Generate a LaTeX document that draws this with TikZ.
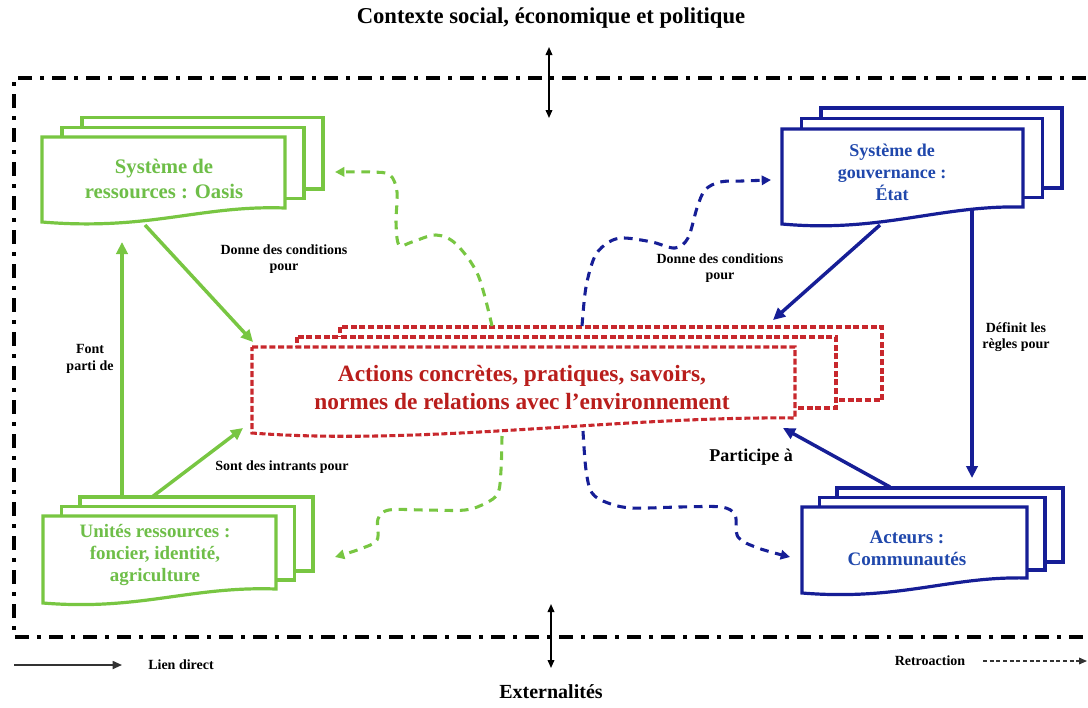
\documentclass[tikz,border=0pt]{standalone}
\usepackage{fontspec}
\setmainfont{Liberation Serif}
\usetikzlibrary{arrows.meta}
\definecolor{oasisgreen}{RGB}{120,198,66}
\definecolor{oasistext}{RGB}{110,190,72}
\definecolor{etatblue}{RGB}{22,30,150}
\definecolor{etattext}{RGB}{32,72,172}
\definecolor{actred}{RGB}{200,40,45}
\definecolor{acttext}{RGB}{185,30,28}
\begin{document}
\begin{tikzpicture}[x=0.75pt,y=-0.75pt,
  frame/.style={line width=3.4pt,dash pattern=on 10.5pt off 6pt on 3pt off 6pt},
  sheet/.style={line width=2.4pt,fill=white},
  redsheet/.style={line width=2.3pt,dash pattern=on 4.5pt off 2pt,draw=actred,fill=white},
  boxtxt/.style={font=\bfseries\fontsize{13.5}{16.5}\selectfont,align=center},
  lbl/.style={font=\bfseries\fontsize{10.5}{12.5}\selectfont,align=center},
  link/.style={line width=2.6pt,-{Triangle[length=9pt,width=8.5pt]}},
  retro/.style={line width=2.3pt,dash pattern=on 6.5pt off 5pt,-{Triangle[length=7pt,width=7pt]}},
  both/.style={line width=1.1pt,{Triangle[length=6pt,width=5pt]}-{Triangle[length=6pt,width=5pt]}}]
\useasboundingbox (0,0) rectangle (1088,707);

% cadre exterieur
\draw[frame] (1086,78) -- (14,78) -- (14,637) -- (1086,637);
\node[font=\bfseries\fontsize{17}{20}\selectfont] (ctx) at (551,18) {Contexte social, économique et politique};
\node[font=\bfseries\fontsize{15}{18}\selectfont] (ext) at (551,692) {Externalités};
\coordinate (ctxA) at (549,47); \coordinate (ctxB) at (549,118);
\coordinate (extA) at (551,604); \coordinate (extB) at (551,668);
\draw[both] (ctxA) -- (ctxB);
\draw[both] (extA) -- (extB);

% systeme de ressources
\foreach \d in {2,1}
  \draw[sheet,draw=oasisgreen] ({42+20*\d},{137-9.8*\d}) rectangle ({285+19*\d},{208-9.5*\d});
\draw[sheet,draw=oasisgreen] (42,137) -- (285,137) -- (285,208) .. controls (200,205) and (150,231) .. (42,222) -- cycle;
\node[boxtxt,font=\bfseries\fontsize{15.5}{19}\selectfont,text=oasistext] (oasis) at (164,179) {Système de\\ressources : Oasis};

% unites ressources
\foreach \d in {2,1}
  \draw[sheet,draw=oasisgreen] ({43+18.5*\d},{516-9.5*\d}) rectangle ({276+18.5*\d},{589-9*\d});
\draw[sheet,draw=oasisgreen] (43,516) -- (276,516) -- (276,589) .. controls (190,586) and (140,611) .. (43,603) -- cycle;
\node[boxtxt,font=\bfseries\fontsize{14.2}{16.5}\selectfont,text=oasistext] (unit) at (155,555) {Unités ressources :\\foncier, identité,\\agriculture};

% systeme de gouvernance
\foreach \d in {2,1}
  \draw[sheet,draw=etatblue] ({782+19.5*\d},{129-10.5*\d}) rectangle ({1023+19.5*\d},{207-9.5*\d});
\draw[sheet,draw=etatblue] (782,129) -- (1023,129) -- (1023,207) .. controls (940,205) and (880,233) .. (782,224) -- cycle;
\node[boxtxt,text=etattext] (etat) at (892,172) {Système de\\gouvernance :\\État};

% acteurs
\foreach \d in {2,1}
  \draw[sheet,draw=etatblue] ({802+17.5*\d},{507-9.5*\d}) rectangle ({1027+18*\d},{578-8*\d});
\draw[sheet,draw=etatblue] (802,507) -- (1027,507) -- (1027,578) .. controls (950,576) and (900,601) .. (802,593) -- cycle;
\node[boxtxt,font=\bfseries\fontsize{14.3}{16.5}\selectfont,text=etattext] (acteurs) at (907,548) {Acteurs :\\Communautés};

% actions
\draw[redsheet] (340,327) rectangle (882,400);
\draw[redsheet] (297,337) rectangle (836,408);
\draw[redsheet] (252,347) -- (795,347) -- (795,418) .. controls (620,416) and (420,446) .. (252,433) -- cycle;
\node[font=\bfseries\fontsize{17.5}{21}\selectfont,text=acttext,align=center] (act) at (522,388)
  {Actions concrètes, pratiques, savoirs,\\normes de relations avec l’environnement};

% liens directs
\coordinate (oasis-s) at (145,225);  \coordinate (act-nw) at (253,342);
\coordinate (unit-n1) at (122,497);  \coordinate (oasis-s2) at (122,242);
\coordinate (unit-n2) at (152,497);  \coordinate (act-sw) at (243,428);
\coordinate (etat-s) at (880,225);   \coordinate (act-ne) at (773,320);
\coordinate (etat-s2) at (972,210);  \coordinate (acteurs-n) at (972,478);
\coordinate (acteurs-n2) at (890,487); \coordinate (act-se) at (783,428);
\draw[link,oasisgreen] (oasis-s) -- (act-nw);
\draw[link,oasisgreen] (unit-n1) -- (oasis-s2);
\draw[link,oasisgreen] (unit-n2) -- (act-sw);
\draw[link,etatblue] (etat-s) -- (act-ne);
\draw[link,etatblue] (etat-s2) -- (acteurs-n);
\draw[link,etatblue] (acteurs-n2) -- (act-se);
\node[lbl] (l-cond1) at (284,259) {Donne des conditions\\pour};
\node[lbl] (l-parti) at (90,359) {Font\\parti de};
\node[lbl] (l-intr) at (282,467) {Sont des intrants pour};
\node[lbl] (l-cond2) at (720,268) {Donne des conditions\\pour};
\node[lbl] (l-regl) at (1016,337) {Définit les\\règles pour};
\node[font=\bfseries\fontsize{13.5}{15}\selectfont] (l-part) at (751,457) {Participe à};

% retroactions
\coordinate (act-n1) at (492,326);  \coordinate (oasis-e) at (335,172);
\coordinate (act-n2) at (582,326);  \coordinate (etat-w) at (771,180);
\coordinate (act-s1) at (502,436);  \coordinate (unit-e) at (335,557);
\coordinate (act-s2) at (583,431);  \coordinate (acteurs-w) at (790,557);
\draw[retro,oasisgreen] plot[smooth,tension=0.55] coordinates {(act-n1) (478,275) (456,244) (436,235) (412,242) (399,245) (396,222) (397,192) (390,175) (372,172) (oasis-e)};
\draw[retro,etatblue] plot[smooth,tension=0.55] coordinates {(act-n2) (586,287) (595,256) (609,242) (624,238) (652,242) (675,248) (688,238) (697,208) (705,190) (720,182) (742,181) (etat-w)};
\draw[retro,oasisgreen] plot[smooth,tension=0.55] coordinates {(act-s1) (501,470) (498,493) (486,503) (465,510) (425,510) (389,510) (378,519) (377,540) (360,549) (unit-e)};
\draw[retro,etatblue] plot[smooth,tension=0.55] coordinates {(act-s2) (586,470) (592,493) (608,503) (632,508) (680,507) (721,507) (735,515) (738,537) (758,548) (acteurs-w)};

% legende
\coordinate (legA) at (14,665); \coordinate (legB) at (122,665);
\coordinate (legC) at (983,661); \coordinate (legD) at (1087,661);
\draw[line width=1.3pt,black!80,-{Triangle[length=7pt,width=6pt]}] (legA) -- (legB);
\node[font=\bfseries\fontsize{10.5}{12}\selectfont] (l-lien) at (181,665) {Lien direct};
\draw[line width=1.1pt,black!80,dash pattern=on 3pt off 2pt,-{Triangle[length=6pt,width=5pt]}] (legC) -- (legD);
\node[font=\bfseries\fontsize{10.5}{12}\selectfont] (l-retro) at (930,661) {Retroaction};
\end{tikzpicture}
\end{document}
